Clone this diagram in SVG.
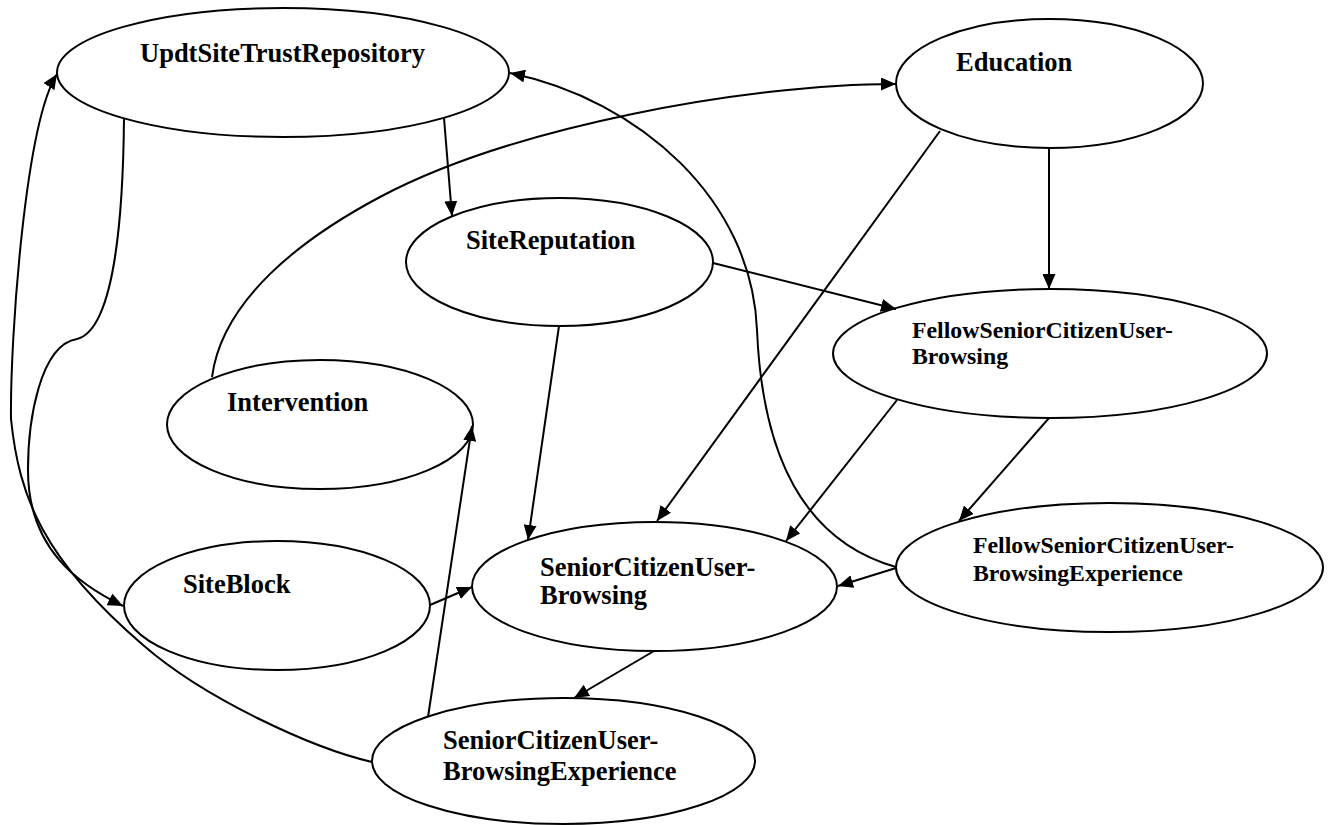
<svg xmlns="http://www.w3.org/2000/svg" width="1328" height="825" viewBox="0 0 1328 825">
<style>
.n ellipse{fill:#fff;stroke:#000;stroke-width:2}
.n text{font-family:"Liberation Serif","Times New Roman",serif;font-weight:bold;font-size:26.5px;fill:#000}
.n text.s{font-size:23.8px}
#edges path{fill:none;stroke:#000;stroke-width:2;marker-end:url(#ah)}
</style>
<defs>
<marker id="ah" markerUnits="userSpaceOnUse" viewBox="0 0 15 13" refX="15" refY="6.5" markerWidth="15" markerHeight="13" orient="auto">
<path d="M0,0 L15,6.5 L0,13 z" fill="#000"/>
</marker>
</defs>
<rect width="1328" height="825" fill="#fff"/>
<g id="n-updt" class="n"><ellipse cx="283" cy="72.5" rx="226" ry="64.5"/><text x="140" y="62">UpdtSiteTrustRepository</text></g>
<g id="n-education" class="n"><ellipse cx="1049.5" cy="83.5" rx="153.5" ry="64.5"/><text x="956" y="71">Education</text></g>
<g id="n-sitereputation" class="n"><ellipse cx="559.5" cy="262" rx="153.5" ry="64"/><text x="466" y="249">SiteReputation</text></g>
<g id="n-fellowbrowsing" class="n"><ellipse cx="1050" cy="353.5" rx="217" ry="64.5"/><text class="s" x="912" y="338">FellowSeniorCitizenUser-</text><text class="s" x="912" y="364">Browsing</text></g>
<g id="n-intervention" class="n"><ellipse cx="320" cy="424.5" rx="153" ry="64.5"/><text x="227" y="411">Intervention</text></g>
<g id="n-seniorbrowsing" class="n"><ellipse cx="654.5" cy="586.5" rx="182.5" ry="64.5"/><text x="540" y="575.5">SeniorCitizenUser-</text><text x="540" y="604">Browsing</text></g>
<g id="n-fellowexperience" class="n"><ellipse cx="1109.5" cy="567.5" rx="213.5" ry="64.5"/><text class="s" x="973" y="553">FellowSeniorCitizenUser-</text><text class="s" x="973" y="581">BrowsingExperience</text></g>
<g id="n-siteblock" class="n"><ellipse cx="277" cy="605.5" rx="153" ry="64.5"/><text x="183" y="593">SiteBlock</text></g>
<g id="n-seniorexperience" class="n"><ellipse cx="563.5" cy="761" rx="191.5" ry="63"/><text x="443" y="749">SeniorCitizenUser-</text><text x="443" y="780">BrowsingExperience</text></g>
<g id="edges">
<path d="M444,118 L452,216"/>
<path d="M124,118 C123,230 112,330 77,339 C40,345 28,420 28,470 C28,550 80,585 123,606"/>
<path d="M372,762 C312,748 205,699 143,645 C43,559 19,497 11,419 C10,340 25,124 57,74"/>
<path d="M212,377 C222,300 301,239 380,197 C512,127 746,84 896,84"/>
<path d="M940,131 L657,521"/>
<path d="M1049,148 L1049,289"/>
<path d="M713,263 L896,309"/>
<path d="M559,326 L528,540"/>
<path d="M428,717 L472,426"/>
<path d="M430,605 L472,587"/>
<path d="M897,400 L786,541"/>
<path d="M1049,418 L959,521"/>
<path d="M896,568 L838,586"/>
<path d="M896,567 C800,540 762,450 757,330 C752,200 640,100 510,73"/>
<path d="M654,651 L574,698"/>
</g>
</svg>
